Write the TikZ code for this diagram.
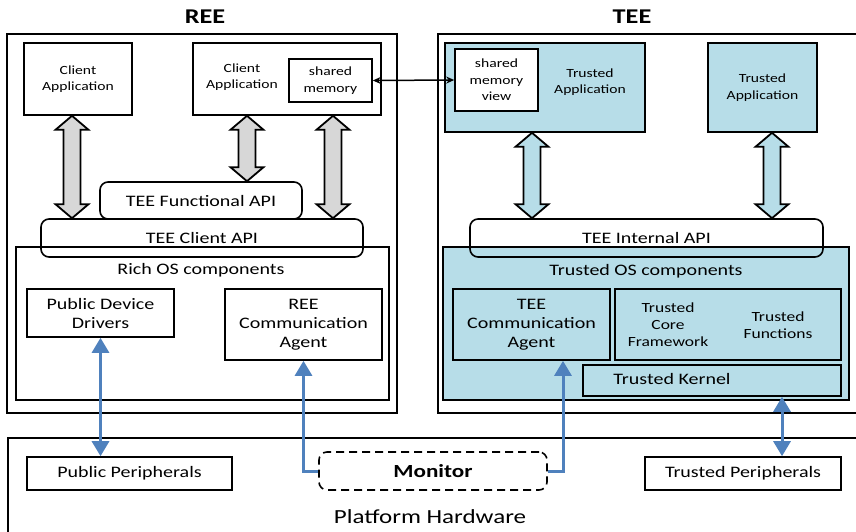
\documentclass[tikz,border=0pt]{standalone}
\usepackage{fontspec}
\setmainfont[FakeStretch=1.25]{Carlito}
\usetikzlibrary{arrows.meta,calc}
\definecolor{teeblue}{RGB}{183,221,232}
\definecolor{linkblue}{RGB}{79,129,189}
\definecolor{fatgray}{RGB}{215,215,215}

% fat double arrow: #1 top anchor, #2 bottom anchor (only its y is used), #3 fill
\newcommand{\fatarrow}[3]{%
  \filldraw[fill=#3, draw=black, line width=1.8pt, line join=miter]
    let \p1=(#1), \p2=(#2) in
    (\x1,\y1) -- (\x1+16.5pt,\y1-14pt) -- (\x1+8.5pt,\y1-14pt) -- (\x1+8.5pt,\y2+14pt)
    -- (\x1+16.5pt,\y2+14pt) -- (\x1,\y2) -- (\x1-16.5pt,\y2+14pt) -- (\x1-8.5pt,\y2+14pt)
    -- (\x1-8.5pt,\y1-14pt) -- (\x1-16.5pt,\y1-14pt) -- cycle;}

\tikzset{
  box/.style={draw, line width=1.6pt, inner sep=0pt, align=center},
  outer/.style={draw, line width=2pt},
  txt/.style={font=\fontsize{16}{19}\selectfont, align=center, inner sep=0pt},
  midtxt/.style={font=\fontsize{14}{17}\selectfont, align=center, inner sep=0pt},
  smalltxt/.style={font=\fontsize{12.5}{16.5}\selectfont, align=center, inner sep=0pt},
  title/.style={font=\bfseries\fontsize{21}{24}\selectfont, inner sep=0pt},
  api/.style={box, rounded corners=8pt, font=\fontsize{16}{19}\selectfont},
  bluelink/.style={draw=linkblue, line width=3pt},
  bluetip/.tip={Triangle[width=17pt,length=15pt]},
  memtip/.tip={Stealth[length=8pt,width=7pt]}
}

\begin{document}
\begin{tikzpicture}[x=1pt, y=-1pt]
  \useasboundingbox (0,0) rectangle (856,531);

  % 1. titles and outer frames
  \node[title] (reet) at (205,17) {REE};
  \node[title] (teet) at (632,17) {TEE};
  \draw[outer] (7,34) rectangle (397,413);
  \draw[outer] (438,34) rectangle (870,413);
  \draw[outer] (8,438) rectangle (870,545);
  \node[font=\fontsize{20}{24}\selectfont, inner sep=0pt] (hw) at (430,517) {Platform Hardware};

  % 2. OS component areas
  \node[box, minimum width=373, minimum height=153] (richos) at (202.5,323.5) {};
  \node[txt] at (201,270) {Rich OS components};
  \node[box, fill=teeblue, minimum width=406, minimum height=153] (trustos) at (646,323.5) {};
  \node[txt] at (646,271) {Trusted OS components};

  % 3. applications
  \node[box, smalltxt, minimum width=108, minimum height=72] (ca1) at (78,79) {Client\\Application};
  \node[box, minimum width=188, minimum height=72] (ca2) at (287,79) {};
  \node[smalltxt] at (242,77) {Client\\Application};
  \node[box, smalltxt, minimum width=83, minimum height=43] (shm) at (330.5,80.5) {shared\\memory};
  \node[box, fill=teeblue, minimum width=200, minimum height=89] (ta1) at (545,87.5) {};
  \node[smalltxt] at (590,82) {Trusted\\Application};
  \node[box, smalltxt, fill=white, minimum width=83, minimum height=62] (shmv) at (496.5,80) {shared\\memory\\view};
  \node[box, smalltxt, fill=teeblue, minimum width=109, minimum height=89] (ta2) at (762.5,87.5) {Trusted\\Application};

  % 4. API layers
  \node[api, minimum width=202, minimum height=37] (funcapi) at (201,200.5) {TEE Functional API};
  \node[api, minimum width=322, minimum height=38] (cliapi) at (202,238) {TEE Client API};
  \node[api, minimum width=353, minimum height=38] (intapi) at (646.5,238) {TEE Internal API};

  % 5. OS components
  \node[box, txt, minimum width=147, minimum height=48] (pdd) at (100.5,313) {Public Device\\Drivers};
  \node[box, txt, minimum width=157, minimum height=71] (reeca) at (303.5,324.5) {REE\\Communication\\Agent};
  \node[box, txt, fill=teeblue, minimum width=157, minimum height=71] (teeca) at (531.5,324.5) {TEE\\Communication\\Agent};
  \node[box, fill=teeblue, minimum width=226, minimum height=71] (tcf) at (728,324.5) {};
  \node[midtxt] at (668,325) {Trusted\\Core\\Framework};
  \node[midtxt] at (778,325) {Trusted\\Functions};
  \node[box, fill=teeblue, minimum width=258, minimum height=31] (tk) at (712,380.5) {};
  \node[txt] at (672,379) {Trusted Kernel};

  % 6. hardware
  \node[box, txt, minimum width=205, minimum height=33] (pubper) at (129.5,473.5) {Public Peripherals};
  \node[box, dashed, dash pattern=on 8pt off 5pt, rounded corners=8pt, font=\bfseries\fontsize{18.5}{22}\selectfont,
        minimum width=228, minimum height=38] (monitor) at (433,471) {Monitor};
  \node[box, txt, minimum width=196, minimum height=33] (trper) at (743,473.5) {Trusted Peripherals};

  % 7. fat arrows
  \fatarrow{[xshift=-6]ca1.south}{cliapi.north}{fatgray}
  \fatarrow{[xshift=-40]ca2.south}{funcapi.north}{fatgray}
  \fatarrow{[xshift=46]ca2.south}{cliapi.north}{fatgray}
  \fatarrow{[xshift=-13]ta1.south}{intapi.north}{teeblue}
  \fatarrow{[xshift=9.5]ta2.south}{intapi.north}{teeblue}

  % 8. links
  \draw[line width=1.5pt, memtip-memtip] (shm.east) -- (shmv.west);
  \draw[bluelink, bluetip-bluetip] (pdd.south) -- (pdd.south |- pubper.north);
  \draw[bluelink, -bluetip] (monitor.west) -| (reeca.south);
  \draw[bluelink, -bluetip] (monitor.east) -| ([xshift=31.5]teeca.south);
  \draw[bluelink, bluetip-bluetip] ([xshift=70]tk.south) -- ([xshift=39]trper.north);
\end{tikzpicture}
\end{document}
